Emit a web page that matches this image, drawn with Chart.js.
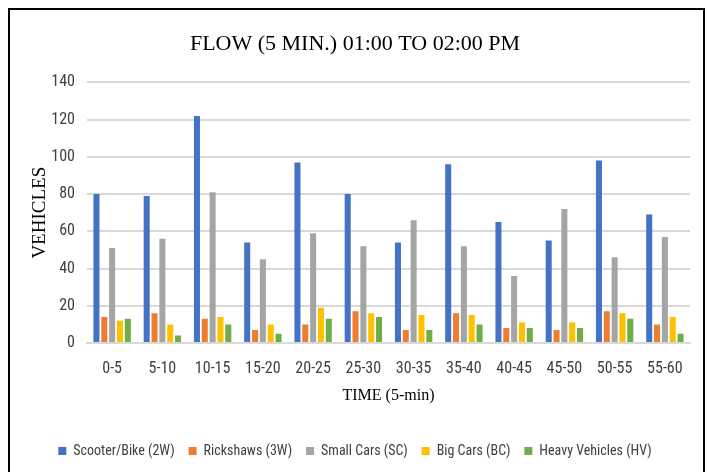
<!DOCTYPE html>
<html>
<head>
<meta charset="utf-8">
<script src="https://cdn.jsdelivr.net/npm/chart.js@4/dist/chart.umd.min.js"></script>
<style>
  html, body { margin: 0; padding: 0; background: #fff; }
  #wrap { width: 708px; height: 472px; position: relative; }
</style>
</head>
<body>
<div id="wrap"><canvas id="c" width="708" height="472"></canvas></div>
<script>
const categories = ["0-5","5-10","10-15","15-20","20-25","25-30","30-35","35-40","40-45","45-50","50-55","55-60"];
const scooterBike   = [80, 79, 122, 54, 97, 80, 54, 96, 65, 55, 98, 69];
const rickshaws     = [14, 16, 13, 7, 10, 17, 7, 16, 8, 7, 17, 10];
const smallCars     = [51, 56, 81, 45, 59, 52, 66, 52, 36, 72, 46, 57];
const bigCars       = [12, 10, 14, 10, 19, 16, 15, 15, 11, 11, 16, 14];
const heavyVehicles = [13, 4, 10, 5, 13, 14, 7, 10, 8, 8, 13, 5];
const seriesNames = ["Scooter/Bike (2W)", "Rickshaws (3W)", "Small Cars (SC)", "Big Cars (BC)", "Heavy Vehicles (HV)"];
const seriesColors = ["#4472C4", "#ED7D31", "#A5A5A5", "#FFC000", "#70AD47"];
const seriesValues = [scooterBike, rickshaws, smallCars, bigCars, heavyVehicles];

const sansFont = "'Liberation Sans Narrow', 'Roboto Condensed', 'Liberation Sans', Arial, sans-serif";
const serifFont = "'Liberation Serif', 'Times New Roman', serif";

const frame = {
  id: 'frame',
  beforeDraw(chart) {
    const ctx = chart.ctx;
    ctx.save();
    ctx.fillStyle = '#fff';
    ctx.fillRect(0, 0, chart.width, chart.height);
    ctx.restore();
  },
  afterDraw(chart) {
    const ctx = chart.ctx;
    ctx.save();
    ctx.strokeStyle = '#000';
    ctx.lineWidth = 2;
    ctx.strokeRect(9, 9, 695, 480);
    ctx.restore();
  }
};

new Chart(document.getElementById('c'), {
  type: 'bar',
  data: {
    labels: categories,
    datasets: seriesNames.map((n, i) => ({
      label: n,
      data: seriesValues[i],
      backgroundColor: seriesColors[i],
      borderWidth: 0,
      categoryPercentage: 0.78,
      barPercentage: 0.77
    }))
  },
  options: {
    responsive: false,
    animation: false,
    devicePixelRatio: 1,
    layout: { padding: { left: 20, right: 18, top: 18, bottom: 4 } },
    plugins: {
      title: {
        display: true,
        text: "FLOW (5 MIN.) 01:00 TO 02:00 PM",
        color: '#000',
        font: { family: serifFont, size: 22, weight: 'normal' },
        padding: { top: 13, bottom: 25 }
      },
      legend: {
        position: 'bottom',
        labels: {
          boxWidth: 8, boxHeight: 8,
          color: '#404040',
          padding: 14,
          font: { family: sansFont, size: 14 }
        }
      },
      tooltip: { enabled: false }
    },
    scales: {
      x: {
        grid: { display: false, drawTicks: false },
        border: { display: true, color: '#d9d9d9', width: 2 },
        ticks: { color: '#404040', font: { family: sansFont, size: 16 }, padding: 16 },
        title: { display: true, text: 'TIME (5-min)', color: '#000', font: { family: serifFont, size: 16 }, padding: { top: 0, bottom: 25 } },
        afterFit(scale) { scale.height = 87; }
      },
      y: {
        min: 0, max: 140,
        ticks: { stepSize: 20, color: '#404040', font: { family: sansFont, size: 16 }, padding: 12 },
        grid: { color: '#d9d9d9', lineWidth: 2, drawTicks: false },
        border: { display: false },
        title: { display: true, text: 'VEHICLES', color: '#000', font: { family: serifFont, size: 19 }, padding: { top: 9, bottom: 0 } },
        afterFit(scale) { scale.width = 67; }
      }
    }
  },
  plugins: [frame]
});
</script>
</body>
</html>
